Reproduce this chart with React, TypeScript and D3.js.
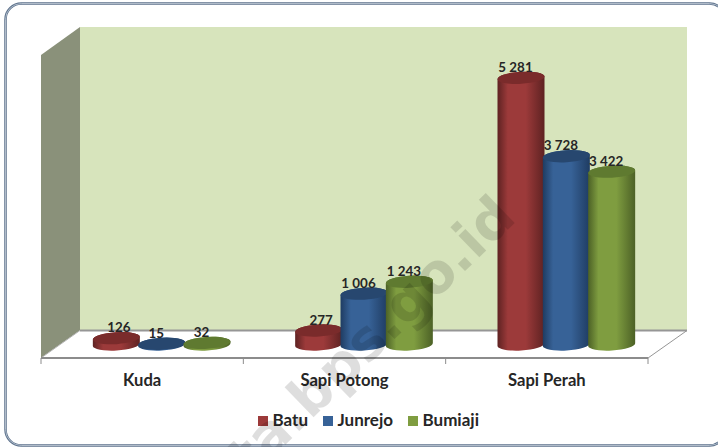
import React from 'react';
import * as d3 from 'd3';

const categories = ['Kuda', 'Sapi Potong', 'Sapi Perah'];
const seriesNames = ['Batu', 'Junrejo', 'Bumiaji'];
const batu = [126, 277, 5281];
const junrejo = [15, 1006, 3728];
const bumiaji = [32, 1243, 3422];
const seriesValues = [batu, junrejo, bumiaji];
const valueTicks = [0, 6000];

const seriesColors = [
  { dark: '#5e2222', mid: '#9c3a3a', top: '#7a2b2b' },
  { dark: '#1f3c62', mid: '#376297', top: '#27476f' },
  { dark: '#4c6126', mid: '#7f9d40', top: '#5f7a30' },
];

const width = 718;
const height = 447;
const depthX = 39;
const depthY = 27.5;
const axisY = 358;
const wallTop = 27;
const floorY = axisY - depthY;
const baseY = axisY - 13.5;
const tilt = -3.5;
const ry = 6;

const x0 = d3.scaleBand().domain(categories).range([41, 648]);
const x1 = d3.scaleBand().domain(seriesNames).range([0, 136]).paddingInner(0);
const y = d3.scaleLinear().domain(valueTicks).range([baseY, baseY - 303]);

const fontFamily = 'Lato, Carlito, sans-serif';

const poly = d3.line();

// one cylinder: body between the two ellipses, the top ellipse goes on separately
function cylinderBody(cx: number, top: number, rx: number) {
  const dy = rx * Math.sin((tilt * Math.PI) / 180);
  return `M${cx - rx},${top - dy}
    L${cx - rx},${baseY - dy}
    A${rx},${ry} ${tilt} 0 0 ${cx + rx},${baseY + dy}
    L${cx + rx},${top + dy}
    A${rx},${ry} ${tilt} 0 0 ${cx - rx},${top - dy}Z`;
}

const barCenter = (cat: string, s: string) =>
  (x0(cat) as number) + x0.bandwidth() / 2 + depthX / 2 - 68 + (x1(s) as number) + x1.bandwidth() / 2;

export default function App() {
  const tickXs = [...categories.map((c) => x0(c) as number), 648];
  const rx = 23.5;

  return (
    <svg
      width={width}
      height={height}
      viewBox={`0 0 ${width} ${height}`}
      style={{ position: 'fixed', left: 0, top: 0, background: '#fff' }}
    >
      <defs>
        {seriesColors.map((c, i) => (
          <linearGradient key={i} id={`cyl${i}`} x1="0" x2="1" y1="0" y2="0">
            <stop offset="0" stopColor={c.dark} />
            <stop offset="0.22" stopColor={c.mid} />
            <stop offset="0.6" stopColor={c.mid} />
            <stop offset="1" stopColor={c.dark} />
          </linearGradient>
        ))}
      </defs>

      <rect x={5.5} y={3.5} width={720} height={442} rx={16} fill="#fff" stroke="#5d728c" strokeWidth={2.5} />
      <rect x={5.5} y={3.5} width={720} height={442} rx={16} fill="none" stroke="#c4ced9" strokeWidth={0.8} />

      {/* walls and floor */}
      <path
        d={poly([[41, 55], [80, wallTop], [80, floorY], [41, axisY]]) as string}
        fill="#8a917a"
      />
      <rect x={80} y={wallTop} width={607} height={floorY - wallTop} fill="#d7e4bc" />
      <path
        d={poly([[41, axisY], [80, floorY], [687, floorY], [648, axisY]]) as string}
        fill="#fff"
      />
      <path d={`M80,${floorY}H687`} stroke="#969696" strokeWidth={2} fill="none" />
      <path d={`M648,${axisY}L687,${floorY}`} stroke="#969696" strokeWidth={1} fill="none" />
      <path d={`M41,${axisY}L80,${floorY}`} stroke="#b4b4b4" strokeWidth={1} fill="none" />
      <path d={`M41,${axisY}H648`} stroke="#8c8c8c" strokeWidth={2} fill="none" />
      {tickXs.map((t) => (
        <path key={t} d={`M${t},${axisY}v6`} stroke="#8c8c8c" strokeWidth={1} />
      ))}

      {/* cylinders */}
      {categories.map((cat, ci) => (
        <g key={cat}>
          {seriesNames.map((s, si) => {
            const v = seriesValues[si][ci];
            const cx = barCenter(cat, s);
            const top = y(v);
            const c = seriesColors[si];
            return (
              <g key={s}>
                <path d={cylinderBody(cx, top, rx)} fill={`url(#cyl${si})`} />
                <ellipse
                  cx={cx}
                  cy={top}
                  rx={rx}
                  ry={ry}
                  fill={c.top}
                  transform={`rotate(${tilt} ${cx} ${top})`}
                />
              </g>
            );
          })}
        </g>
      ))}

      {/* data labels */}
      {categories.map((cat, ci) =>
        seriesNames.map((s, si) => {
          const v = seriesValues[si][ci];
          const nudge = si === 0 && ci < 2 ? 2.5 : -5.5;
          return (
            <text
              key={cat + s}
              x={barCenter(cat, s) + nudge}
              y={y(v) - 6}
              textAnchor="middle"
              fontFamily={fontFamily}
              fontWeight={700}
              fontSize={13.4}
              fill="#262626"
            >
              {d3.format(',')(v).replace(',', ' ')}
            </text>
          );
        }),
      )}

      {/* category labels */}
      {categories.map((cat) => (
        <text
          key={cat}
          x={(x0(cat) as number) + x0.bandwidth() / 2}
          y={386}
          textAnchor="middle"
          fontFamily={fontFamily}
          fontWeight={700}
          fontSize={16.6}
          fill="#262626"
        >
          {cat}
        </text>
      ))}

      {/* legend */}
      {seriesNames.map((s, i) => {
        const lx = [258, 323, 408][i];
        return (
          <g key={s}>
            <rect x={lx} y={416} width={10} height={10} fill={seriesColors[i].mid} />
            <text x={lx + 14.5} y={426} fontFamily={fontFamily} fontWeight={700} fontSize={17} fill="#262626">
              {s}
            </text>
          </g>
        );
      })}

      {/* watermark */}
      <text
        x={518}
        y={220}
        textAnchor="end"
        transform="rotate(-44 518 220)"
        fontFamily="'DejaVu Sans', sans-serif"
        fontWeight={700}
        fontSize={55}
        fill="#000"
        fillOpacity={0.13}
      >
        ta.bps.go.id
      </text>
    </svg>
  );
}
